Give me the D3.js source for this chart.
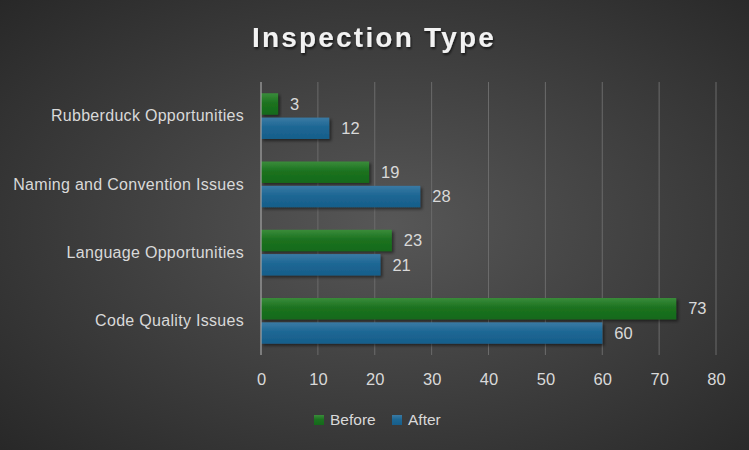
<!DOCTYPE html>
<html><head><meta charset="utf-8">
<script src="https://cdn.jsdelivr.net/npm/d3@7"></script>
<style>html,body{margin:0;padding:0;background:#333;}svg{display:block;}</style>
</head><body>
<svg id="chart" width="749" height="450"></svg>
<script>
const categories = ["Rubberduck Opportunities","Naming and Convention Issues","Language Opportunities","Code Quality Issues"];
const seriesNames = ["Before","After"];
const beforeValues = [3,19,23,73];
const afterValues = [12,28,21,60];
const xTicks = [0,10,20,30,40,50,60,70,80];
const title = "Inspection Type";

(function(){
const W=749,H=450;
const svg=d3.select("#chart");
const defs=svg.append("defs");
const bg=defs.append("radialGradient").attr("id","bg").attr("cx","52%").attr("cy","50%").attr("r","75%");
bg.append("stop").attr("offset","0%").attr("stop-color","#575757");
bg.append("stop").attr("offset","100%").attr("stop-color","#262626");
svg.append("rect").attr("width",W).attr("height",H).attr("fill","url(#bg)");

const gG=defs.append("linearGradient").attr("id","gGreen").attr("x1",0).attr("y1",0).attr("x2",0).attr("y2",1);
gG.append("stop").attr("offset","0%").attr("stop-color","#3a8c3a");
gG.append("stop").attr("offset","45%").attr("stop-color","#1c7220");
gG.append("stop").attr("offset","100%").attr("stop-color","#146a1a");
const gB=defs.append("linearGradient").attr("id","gBlue").attr("x1",0).attr("y1",0).attr("x2",0).attr("y2",1);
gB.append("stop").attr("offset","0%").attr("stop-color","#3a7aa4");
gB.append("stop").attr("offset","45%").attr("stop-color","#1d6794");
gB.append("stop").attr("offset","100%").attr("stop-color","#175e8a");
const sh=defs.append("filter").attr("id","shadow").attr("x","-10%").attr("y","-20%").attr("width","130%").attr("height","160%");
sh.append("feDropShadow").attr("dx",2).attr("dy",2).attr("stdDeviation",1.5).attr("flood-color","#000").attr("flood-opacity",0.5);
const tsh=defs.append("filter").attr("id","tshadow");
tsh.append("feDropShadow").attr("dx",1).attr("dy",2).attr("stdDeviation",1).attr("flood-color","#000").attr("flood-opacity",0.6);

const pLeft=261,pRight=716,pTop=82,pBottom=355;
const x=d3.scaleLinear().domain([0,80]).range([pLeft,pRight]);
const y=d3.scaleBand().domain(categories).range([pTop,pBottom]).paddingInner(0.33).paddingOuter(0.165);
const sub=d3.scaleBand().domain(seriesNames).range([0,y.bandwidth()]).paddingInner(0.12);

svg.append("g").selectAll("line").data(xTicks.filter(d=>d>0)).join("line")
  .attr("x1",d=>x(d)).attr("x2",d=>x(d)).attr("y1",pTop).attr("y2",pBottom)
  .attr("stroke","#6b6b6b").attr("stroke-width",1);

const data=[];
categories.forEach((c,i)=>{data.push({c,s:"Before",v:beforeValues[i]});data.push({c,s:"After",v:afterValues[i]});});

svg.append("g").selectAll("rect").data(data).join("rect")
  .attr("x",x(0)).attr("y",d=>y(d.c)+sub(d.s)).attr("width",d=>x(d.v)-x(0)).attr("height",sub.bandwidth())
  .attr("fill",d=>d.s==="Before"?"url(#gGreen)":"url(#gBlue)").attr("filter","url(#shadow)");

svg.append("g").selectAll("text").data(data).join("text")
  .attr("x",d=>x(d.v)+12).attr("y",d=>y(d.c)+sub(d.s)+sub.bandwidth()/2).attr("dy","0.35em")
  .attr("fill","#d9d9d9").attr("font-family","Liberation Sans, Arial, sans-serif").attr("font-size",16.5)
  .text(d=>d.v);

svg.append("line").attr("x1",x(0)).attr("x2",x(0)).attr("y1",pTop).attr("y2",pBottom).attr("stroke","#a6a6a6").attr("stroke-width",1.2);

const xa=svg.append("g").attr("transform",`translate(0,${pBottom})`).call(d3.axisBottom(x).tickValues(xTicks).tickSize(0).tickPadding(18));
xa.select(".domain").remove();
xa.selectAll("text").attr("fill","#d9d9d9").attr("font-family","Liberation Sans, Arial, sans-serif").attr("font-size",16.5);

const ya=svg.append("g").attr("transform",`translate(${pLeft},0)`).call(d3.axisLeft(y).tickSize(0).tickPadding(17));
ya.select(".domain").remove();
ya.selectAll("text").attr("fill","#d9d9d9").attr("font-family","Liberation Sans, Arial, sans-serif").attr("font-size",16).attr("letter-spacing",0.3);

svg.append("text").attr("x",374).attr("y",47).attr("text-anchor","middle")
  .attr("fill","#f2f2f2").attr("font-family","Liberation Sans, Arial, sans-serif").attr("font-weight","bold")
  .attr("font-size",28).attr("letter-spacing",2.2).attr("filter","url(#tshadow)").text(title);

const legend=[{n:seriesNames[0],f:"url(#gGreen)",x:314},{n:seriesNames[1],f:"url(#gBlue)",x:392}];
const lg=svg.append("g");
legend.forEach(l=>{
  lg.append("rect").attr("x",l.x).attr("y",415).attr("width",10).attr("height",10).attr("fill",l.f);
  lg.append("text").attr("x",l.x+16).attr("y",420).attr("dy","0.35em").attr("fill","#d9d9d9")
    .attr("font-family","Liberation Sans, Arial, sans-serif").attr("font-size",15.5).text(l.n);
});
})();
</script>
</body></html>
